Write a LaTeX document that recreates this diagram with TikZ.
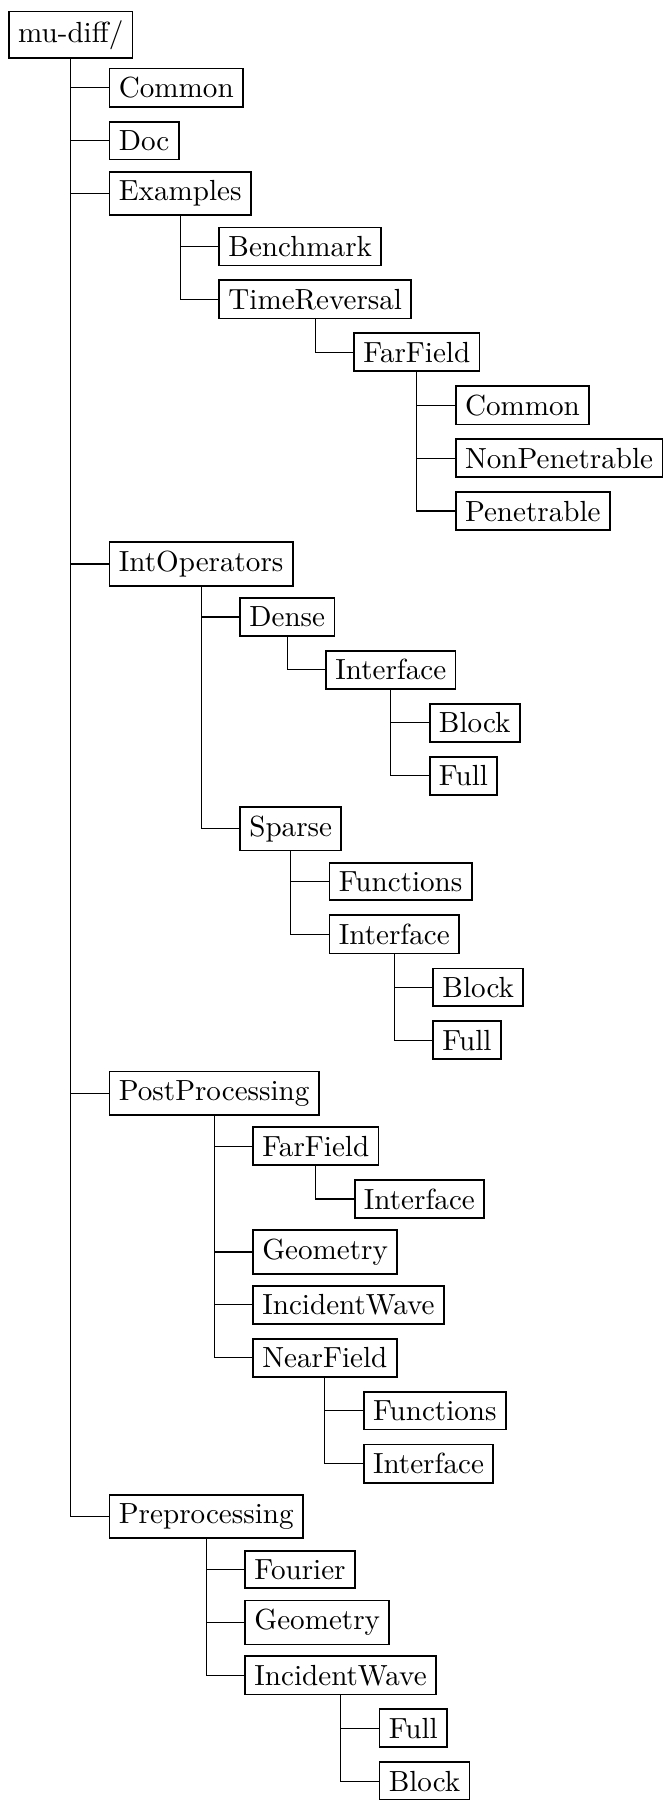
\documentclass[tikz,border=0pt]{standalone}
\begin{document}
\begin{tikzpicture}[x=0.3436pt,y=-0.3436pt,
  box/.style={draw,line width=0.6pt,inner xsep=3.2pt,inner ysep=3pt,anchor=west},
  edge/.style={line width=0.4pt}]
\useasboundingbox (0,0) rectangle (665,1800);
\newcommand\kid[4]{%
  \path (#2.south) ++(38,0) coordinate (#1a);
  \node[box] (#1) at (#1a |- 0,{34.8+#3*52.92}) {#4};
  \draw[edge] (#2.south) |- (#1.west);}
\node[box] (root) at (8,34.8) {mu-diff/};
\kid{common}{root}{1}{Common}
\kid{doc}{root}{2}{Doc}
\kid{examples}{root}{3}{Examples}
\kid{bench}{examples}{4}{Benchmark}
\kid{timerev}{examples}{5}{TimeReversal}
\kid{farfield}{timerev}{6}{FarField}
\kid{ffcommon}{farfield}{7}{Common}
\kid{nonpen}{farfield}{8}{NonPenetrable}
\kid{pen}{farfield}{9}{Penetrable}
\kid{intop}{root}{10}{IntOperators}
\kid{dense}{intop}{11}{Dense}
\kid{dinter}{dense}{12}{Interface}
\kid{dblock}{dinter}{13}{Block}
\kid{dfull}{dinter}{14}{Full}
\kid{sparse}{intop}{15}{Sparse}
\kid{sfunc}{sparse}{16}{Functions}
\kid{sinter}{sparse}{17}{Interface}
\kid{sblock}{sinter}{18}{Block}
\kid{sfull}{sinter}{19}{Full}
\kid{post}{root}{20}{PostProcessing}
\kid{pfar}{post}{21}{FarField}
\kid{pfinter}{pfar}{22}{Interface}
\kid{pgeom}{post}{23}{Geometry}
\kid{pinc}{post}{24}{IncidentWave}
\kid{pnear}{post}{25}{NearField}
\kid{pnfunc}{pnear}{26}{Functions}
\kid{pninter}{pnear}{27}{Interface}
\kid{pre}{root}{28}{Preprocessing}
\kid{fourier}{pre}{29}{Fourier}
\kid{pregeom}{pre}{30}{Geometry}
\kid{preinc}{pre}{31}{IncidentWave}
\kid{pfull}{preinc}{32}{Full}
\kid{pblock}{preinc}{33}{Block}
\end{tikzpicture}
\end{document}
